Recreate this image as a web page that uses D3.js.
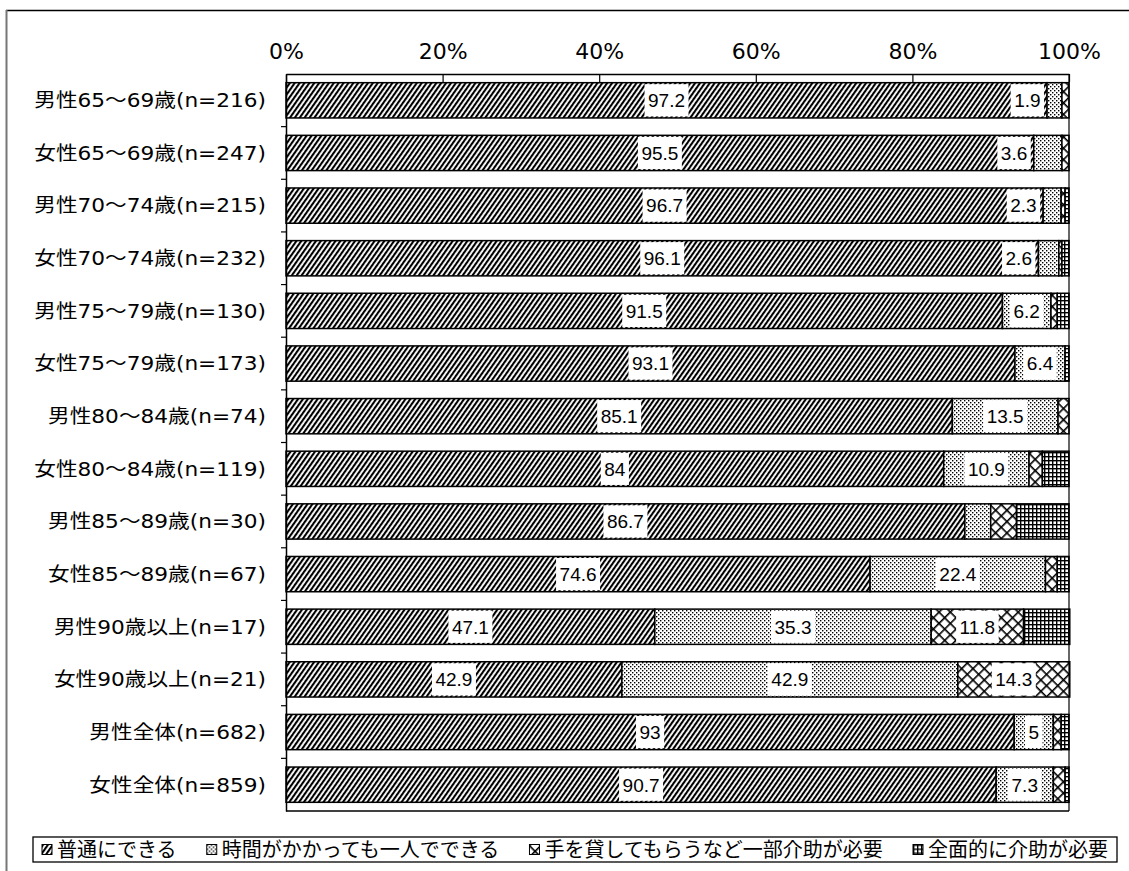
<!DOCTYPE html>
<html lang="ja">
<head>
<meta charset="utf-8">
<script src="https://cdn.jsdelivr.net/npm/d3@7"></script>
<style>
  html, body { margin: 0; padding: 0; background: #fff; }
  svg { display: block; }
</style>
</head>
<body>
<svg id="chart" width="1129" height="871"></svg>
<script>
// Age/sex groups (top to bottom)
const categories = [
  "男性65〜69歳(n=216)", "女性65〜69歳(n=247)",
  "男性70〜74歳(n=215)", "女性70〜74歳(n=232)",
  "男性75〜79歳(n=130)", "女性75〜79歳(n=173)",
  "男性80〜84歳(n=74)",  "女性80〜84歳(n=119)",
  "男性85〜89歳(n=30)",  "女性85〜89歳(n=67)",
  "男性90歳以上(n=17)",  "女性90歳以上(n=21)",
  "男性全体(n=682)",     "女性全体(n=859)"
];

const seriesNames = [
  "普通にできる",
  "時間がかかっても一人でできる",
  "手を貸してもらうなど一部介助が必要",
  "全面的に介助が必要"
];

// Percentages for each response
const normal  = [97.2, 95.5, 96.7, 96.1, 91.5, 93.1, 85.1, 84, 86.7, 74.6, 47.1, 42.9, 93, 90.7];
const slow    = [1.9, 3.6, 2.3, 2.6, 6.2, 6.4, 13.5, 10.9, 3.3, 22.4, 35.3, 42.9, 5, 7.3];
const partial = [0.9, 0.9, 0.5, 0.4, 0.8, 0, 1.4, 1.7, 3.3, 1.5, 11.8, 14.3, 1.0, 1.5];
const full    = [0, 0, 0.5, 0.9, 1.5, 0.5, 0, 3.4, 6.7, 1.5, 5.9, 0, 1.0, 0.5];

const tickValues = [0, 20, 40, 60, 80, 100];
const tickLabels = ["0%", "20%", "40%", "60%", "80%", "100%"];

// Which values carry a data label
const labelMin = [0, 1.5, 10, Infinity];
const unlabeledSlow = ["男性85〜89歳(n=30)"];

const keys = ["normal", "slow", "partial", "full"];
const table = categories.map((c, i) => ({
  cat: c, normal: normal[i], slow: slow[i], partial: partial[i], full: full[i]
}));

const svg = d3.select("#chart");
const defs = svg.append("defs");

// Fill patterns
const pHatch = defs.append("pattern").attr("id", "p-hatch")
  .attr("patternUnits", "userSpaceOnUse").attr("width", 4).attr("height", 10)
  .attr("patternTransform", "rotate(35)");
pHatch.append("rect").attr("width", 4).attr("height", 10).attr("fill", "#fff");
pHatch.append("rect").attr("x", 0).attr("width", 2.1).attr("height", 10).attr("fill", "#000");

const pDots = defs.append("pattern").attr("id", "p-dots")
  .attr("patternUnits", "userSpaceOnUse").attr("width", 4).attr("height", 4);
pDots.append("rect").attr("width", 4).attr("height", 4).attr("fill", "#fff");
pDots.append("rect").attr("x", 0).attr("y", 0).attr("width", 1.4).attr("height", 1.4).attr("fill", "#000");
pDots.append("rect").attr("x", 2).attr("y", 2).attr("width", 1.4).attr("height", 1.4).attr("fill", "#000");

const pCross = defs.append("pattern").attr("id", "p-cross")
  .attr("patternUnits", "userSpaceOnUse").attr("width", 8).attr("height", 8)
  .attr("patternTransform", "rotate(45)");
pCross.append("rect").attr("width", 8).attr("height", 8).attr("fill", "#fff");
pCross.append("rect").attr("x", 0).attr("y", 0).attr("width", 8).attr("height", 1.6).attr("fill", "#000");
pCross.append("rect").attr("x", 0).attr("y", 0).attr("width", 1.6).attr("height", 8).attr("fill", "#000");

const pGrid = defs.append("pattern").attr("id", "p-grid")
  .attr("patternUnits", "userSpaceOnUse").attr("width", 4).attr("height", 4);
pGrid.append("rect").attr("width", 4).attr("height", 4).attr("fill", "#fff");
pGrid.append("rect").attr("x", 0).attr("y", 0).attr("width", 4).attr("height", 1.4).attr("fill", "#000");
pGrid.append("rect").attr("x", 0).attr("y", 0).attr("width", 1.4).attr("height", 4).attr("fill", "#000");

const fills = ["url(#p-hatch)", "url(#p-dots)", "url(#p-cross)", "url(#p-grid)"];

// Outer border of the figure
svg.append("line").attr("x1", 6).attr("x2", 1129).attr("y1", 10.5).attr("y2", 10.5)
  .attr("stroke", "#000").attr("stroke-width", 1.5);
svg.append("line").attr("x1", 6.5).attr("x2", 6.5).attr("y1", 10).attr("y2", 871)
  .attr("stroke", "#777").attr("stroke-width", 2);

// Scales
const x = d3.scaleLinear().domain([0, 100]).range([286, 1069]);
const y = d3.scaleBand().domain(categories).range([74, 811])
  .paddingInner(0.33).paddingOuter(0.165);

// Stacked bars
const stacked = d3.stack().keys(keys)(table);
const g = svg.append("g");
stacked.forEach((layer, si) => {
  g.append("g").selectAll("rect").data(layer).join("rect")
    .attr("x", d => x(d[0]))
    .attr("y", d => y(d.data.cat))
    .attr("width", d => Math.max(0, x(d[1]) - x(d[0])))
    .attr("height", y.bandwidth())
    .attr("fill", fills[si])
    .attr("stroke", d => (d[1] - d[0]) > 0 ? "#000" : "none")
    .attr("stroke-width", 1.5);
});

// Plot frame: right and bottom
svg.append("line").attr("x1", x(100)).attr("x2", x(100)).attr("y1", 74).attr("y2", 811)
  .attr("stroke", "#000").attr("stroke-width", 1.2);
svg.append("line").attr("x1", x(0)).attr("x2", x(100)).attr("y1", 811).attr("y2", 811)
  .attr("stroke", "#000").attr("stroke-width", 1.5);

// Top percentage axis with ticks pointing into the plot
const topAxis = d3.axisTop(x).tickValues(tickValues)
  .tickFormat((d, i) => tickLabels[i])
  .tickSizeInner(-8).tickSizeOuter(0).tickPadding(15);
const ta = svg.append("g").attr("transform", "translate(0,74)").call(topAxis);
ta.select(".domain").attr("stroke", "#000").attr("stroke-width", 1.5);
ta.selectAll(".tick line").attr("stroke", "#000").attr("stroke-width", 1.2);
ta.selectAll(".tick text").attr("font-family", "'DejaVu Sans', sans-serif")
  .attr("font-size", 22).attr("fill", "#000");

// Left category axis (labels at band centres, set in a slightly widened face)
const stretch = 1.14;
const leftAxis = d3.axisLeft(y).tickSize(0).tickPadding(20);
const la = svg.append("g").attr("transform", `translate(${x(0)},0)`).call(leftAxis);
la.select(".domain").attr("stroke", "#000").attr("stroke-width", 1.5);
la.selectAll(".tick text")
  .attr("font-family", "'DejaVu Sans', 'Noto Sans CJK JP', sans-serif")
  .attr("font-size", 19).attr("fill", "#000").attr("dy", "0.36em")
  .attr("x", -20 / stretch)
  .attr("transform", `scale(${stretch},1)`);

// Small ticks between the bands
const step = y.step();
const bounds = categories.slice(1).map(c => y(c) - step * y.paddingInner() / 2);
svg.append("g").selectAll("line").data(bounds).join("line")
  .attr("x1", x(0) - 5).attr("x2", x(0)).attr("y1", d => d).attr("y2", d => d)
  .attr("stroke", "#000").attr("stroke-width", 1.2);

// Data labels in white boxes
const lab = svg.append("g");
stacked.forEach((layer, si) => {
  layer.forEach((d, ri) => {
    const val = table[ri][keys[si]];
    if (val < labelMin[si] || val <= 0) return;
    if (si === 1 && unlabeledSlow.includes(d.data.cat)) return;
    const cy = y(d.data.cat) + y.bandwidth() / 2;
    const t = lab.append("text")
      .attr("font-family", "'Liberation Sans', Arial, sans-serif")
      .attr("font-size", 19).attr("fill", "#000")
      .attr("text-anchor", "middle").attr("dy", "0.36em")
      .text(String(val));
    const tw = t.node().getComputedTextLength();
    const bw = tw + 7;
    const segW = x(d[1]) - x(d[0]);
    let cx = (x(d[0]) + x(d[1])) / 2;
    if (si === 1 && bw > 0.7 * segW) cx = x(d[0]) - 3 - bw / 2;
    t.attr("x", cx).attr("y", cy);
    lab.insert("rect", () => t.node())
      .attr("x", cx - bw / 2).attr("y", y(d.data.cat) + 1.5)
      .attr("width", bw).attr("height", y.bandwidth() - 3)
      .attr("fill", "#fff");
  });
});

// Legend
const legY = 837, legH = 25, legX0 = 33, legX1 = 1117;
svg.append("rect").attr("x", legX0).attr("y", legY).attr("width", legX1 - legX0)
  .attr("height", legH).attr("fill", "#fff").attr("stroke", "#000").attr("stroke-width", 1.3);
const lg = svg.append("g");
const items = seriesNames.map((name, i) => {
  const it = lg.append("g");
  it.append("rect").attr("width", 10).attr("height", 10)
    .attr("fill", fills[i]).attr("stroke", "#000").attr("stroke-width", 1);
  const tx = it.append("text").attr("x", 15).attr("y", 5).attr("dy", "0.36em")
    .attr("font-family", "'Noto Sans CJK JP', sans-serif").attr("font-size", 20)
    .attr("fill", "#000").text(name);
  return { it, w: 15 + tx.node().getComputedTextLength() };
});
const total = d3.sum(items, d => d.w);
const gap = (legX1 - legX0 - 18 - total) / (items.length - 1);
let cur = legX0 + 9;
items.forEach(d => {
  d.it.attr("transform", `translate(${cur},${legY + legH / 2 - 5})`);
  cur += d.w + gap;
});
</script>
</body>
</html>
